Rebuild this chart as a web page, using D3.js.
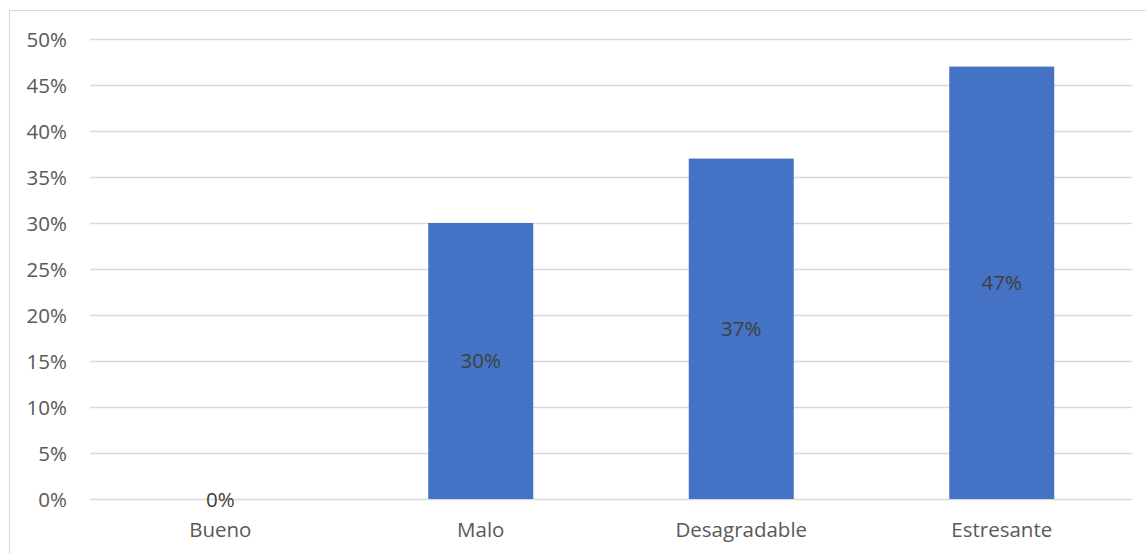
<!DOCTYPE html>
<html><head><meta charset="utf-8">
<script src="https://cdn.jsdelivr.net/npm/d3@7"></script>
<style>body{margin:0;background:#fff}svg{display:block}</style>
</head><body>
<script>
const categories = ["Bueno", "Malo", "Desagradable", "Estresante"];
const values = [0, 30, 37, 47];
const yTicks = [0, 5, 10, 15, 20, 25, 30, 35, 40, 45, 50];

const W = 1146, H = 554;
const svg = d3.select("body").append("svg").attr("width", W).attr("height", H);
const font = "'Open Sans', sans-serif";
const fs = 20.5;

svg.append("rect").attr("x", 9.5).attr("y", 10.5).attr("width", W).attr("height", H)
  .attr("fill", "none").attr("stroke", "#d9d9d9");

const x = d3.scaleBand().domain(categories).range([90, 1132]).paddingInner(0.597).paddingOuter(0.2985);
const y = d3.scaleLinear().domain([0, 50]).range([499, 39]);

const g = svg.append("g");
g.selectAll("line.grid").data(yTicks).join("line")
  .attr("x1", 90).attr("x2", 1132)
  .attr("y1", d => Math.round(y(d)) + 0.5).attr("y2", d => Math.round(y(d)) + 0.5)
  .attr("stroke", "#d9d9d9").attr("stroke-width", 1.5);

const yAxis = d3.axisLeft(y).tickValues(yTicks).tickFormat(d => d + "%").tickSize(0).tickPadding(0);
const ya = svg.append("g").attr("transform", "translate(67,0)").call(yAxis);
ya.select(".domain").remove();
ya.selectAll("text").attr("font-family", font).attr("font-size", fs).attr("fill", "#595959").attr("dy", "0.35em");

const xAxis = d3.axisBottom(x).tickSize(0).tickPadding(0);
const xa = svg.append("g").attr("transform", "translate(0,530)").call(xAxis);
xa.select(".domain").remove();
xa.selectAll("text").attr("font-family", font).attr("font-size", fs).attr("fill", "#595959").attr("dy", "0.35em");

g.selectAll("rect.bar").data(values).join("rect")
  .attr("x", (d, i) => x(categories[i])).attr("width", x.bandwidth())
  .attr("y", d => y(d)).attr("height", d => y(0) - y(d))
  .attr("fill", "#4472c4");

g.selectAll("text.lbl").data(values).join("text")
  .attr("x", (d, i) => x(categories[i]) + x.bandwidth() / 2)
  .attr("y", d => d === 0 ? y(0) + 1 : (y(d) + y(0)) / 2)
  .attr("dy", "0.35em").attr("text-anchor", "middle")
  .attr("font-family", font).attr("font-size", fs).attr("fill", "#404040")
  .text(d => d + "%");
</script>
</body></html>
